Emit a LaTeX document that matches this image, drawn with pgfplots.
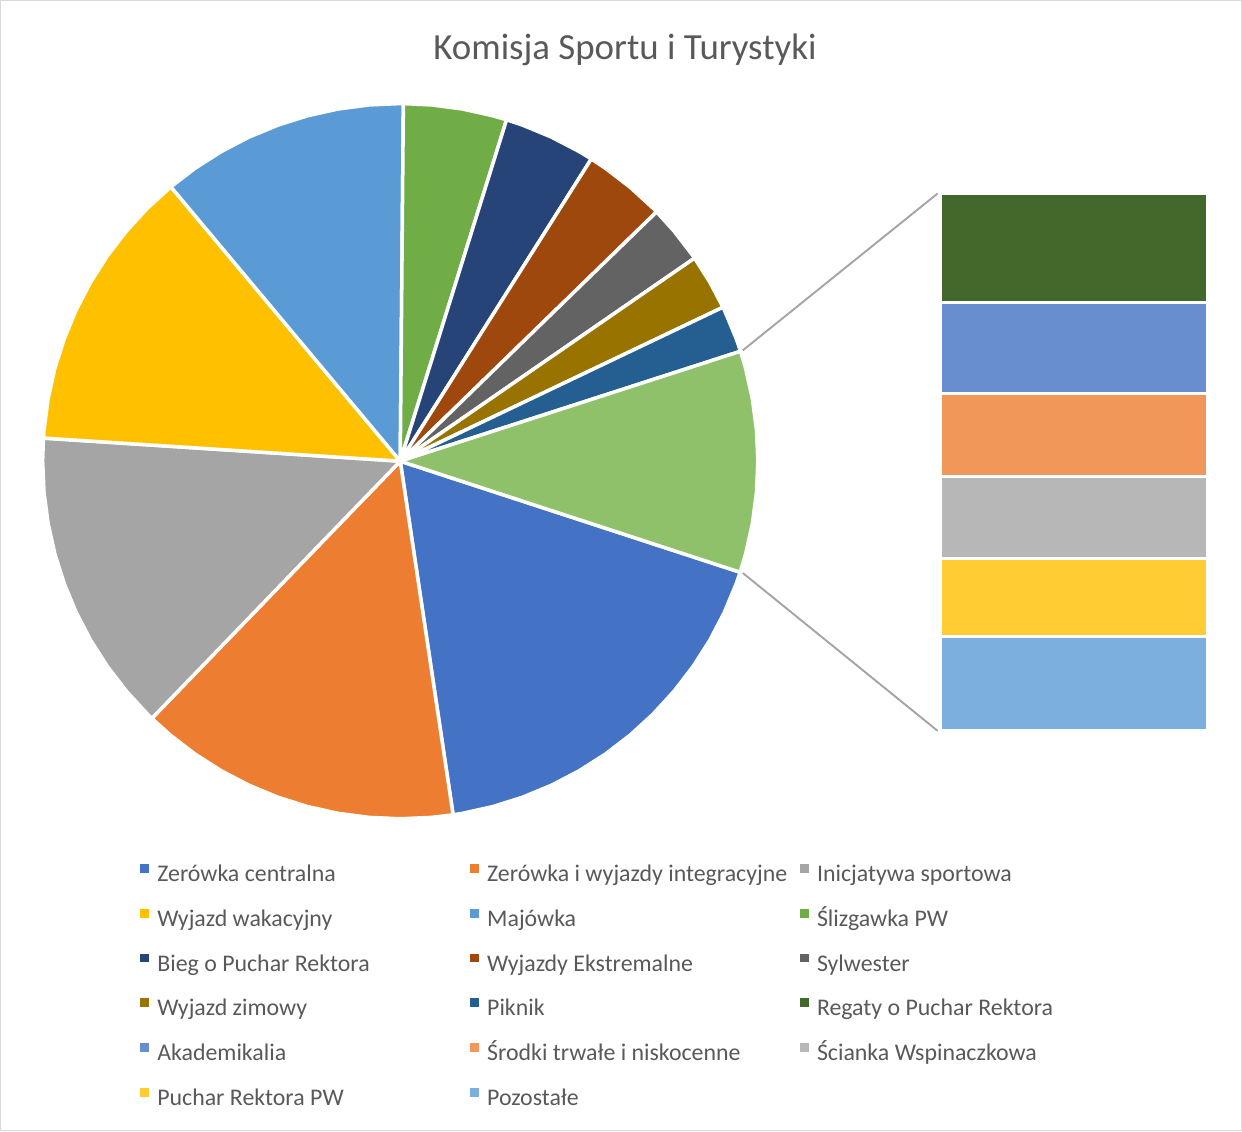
\documentclass[border=0pt]{standalone}
\usepackage{fontspec}
\setmainfont{Carlito}
\usepackage{pgfplots}
\pgfplotsset{compat=1.18}

\definecolor{txt}{HTML}{595959}
\definecolor{frame}{HTML}{D9D9D9}
\definecolor{conn}{HTML}{A5A5A5}
\definecolor{c01}{HTML}{4472C4}
\definecolor{c02}{HTML}{ED7D31}
\definecolor{c03}{HTML}{A5A5A5}
\definecolor{c04}{HTML}{FFC000}
\definecolor{c05}{HTML}{5B9BD5}
\definecolor{c06}{HTML}{70AD47}
\definecolor{c07}{HTML}{264478}
\definecolor{c08}{HTML}{9E480E}
\definecolor{c09}{HTML}{636363}
\definecolor{c10}{HTML}{997300}
\definecolor{c11}{HTML}{255E91}
\definecolor{c12}{HTML}{43682B}
\definecolor{c13}{HTML}{698ED0}
\definecolor{c14}{HTML}{F1975A}
\definecolor{c15}{HTML}{B7B7B7}
\definecolor{c16}{HTML}{FFCD33}
\definecolor{c17}{HTML}{7CAFDD}
\definecolor{cother}{HTML}{8FC16B}

\newcommand{\lentry}[1]{\addlegendentry{\makebox[89.1pt][l]{#1}}}

\pgfplotsset{
  slice/.style={fill=#1, draw=white, line width=1pt, line join=round, data cs=polar},
  seg/.style={fill=#1, draw=white, line width=0.9pt},
}

\begin{document}
\begin{tikzpicture}
\begin{axis}[
  width=12.42cm, height=11.31cm, scale only axis,
  xmin=-400, xmax=842, ymin=-670, ymax=461,
  axis lines=box, ticks=none,
  axis line style={draw=frame, line width=0.4pt},
  clip=false,
  legend columns=3,
  legend cell align=left,
  legend image code/.code={\fill[#1, draw=none] (0pt,0.5pt) rectangle (2.5pt,3.0pt);},
  legend style={at={(axis cs:-261,-399)}, anchor=north west,
    draw=none, fill=none, inner sep=0pt, text=txt,
    font=\fontsize{6.8}{8}\selectfont, row sep=4.77pt,
    nodes={inner sep=0pt, text height=6pt, text depth=2pt},
    /tikz/every odd column/.append style={column sep=2.36pt},
    /tikz/every even column/.append style={column sep=0pt}},
]
% pie: (angle in degrees, radius), slices clockwise from Zerowka centralna
\addplot[slice=c01] coordinates {(0,0) (-18.1,358) (-20,358) (-25,358) (-30,358) (-35,358) (-40,358) (-45,358) (-50,358) (-55,358) (-60,358) (-65,358) (-70,358) (-75,358) (-80,358) (-81.5,358)} -- cycle;
\lentry{Zerówka centralna}
\addplot[slice=c02] coordinates {(0,0) (-81.5,358) (-85,358) (-90,358) (-95,358) (-100,358) (-105,358) (-110,358) (-115,358) (-120,358) (-125,358) (-130,358) (-134,358)} -- cycle;
\lentry{Zerówka i wyjazdy integracyjne}
\addplot[slice=c03] coordinates {(0,0) (-134,358) (-135,358) (-140,358) (-145,358) (-150,358) (-155,358) (-160,358) (-165,358) (-170,358) (-175,358) (-180,358) (-183.7,358)} -- cycle;
\lentry{Inicjatywa sportowa}
\addplot[slice=c04] coordinates {(0,0) (176.3,358) (175,358) (170,358) (165,358) (160,358) (155,358) (150,358) (145,358) (140,358) (135,358) (129.9,358)} -- cycle;
\lentry{Wyjazd wakacyjny}
\addplot[slice=c05] coordinates {(0,0) (129.9,358) (125,358) (120,358) (115,358) (110,358) (105,358) (100,358) (95,358) (90,358) (89.5,358)} -- cycle;
\lentry{Majówka}
\addplot[slice=c06] coordinates {(0,0) (89.5,358) (85,358) (80,358) (75,358) (72.7,358)} -- cycle;
\lentry{Ślizgawka PW}
\addplot[slice=c07] coordinates {(0,0) (72.7,358) (70,358) (65,358) (60,358) (57.7,358)} -- cycle;
\lentry{Bieg o Puchar Rektora}
\addplot[slice=c08] coordinates {(0,0) (57.7,358) (55,358) (50,358) (45,358) (44.2,358)} -- cycle;
\lentry{Wyjazdy Ekstremalne}
\addplot[slice=c09] coordinates {(0,0) (44.2,358) (40,358) (35,358) (34.6,358)} -- cycle;
\lentry{Sylwester}
\addplot[slice=c10] coordinates {(0,0) (34.6,358) (30,358) (25.5,358)} -- cycle;
\lentry{Wyjazd zimowy}
\addplot[slice=c11] coordinates {(0,0) (25.5,358) (25,358) (20,358) (17.9,358)} -- cycle;
\lentry{Piknik}
% combined "other" slice
\addplot[slice=cother, forget plot] coordinates {(0,0) (17.9,358) (15,358) (10,358) (5,358) (0,358) (-5,358) (-10,358) (-15,358) (-18.1,358)} -- cycle;

% stacked bar for the other slice
\addplot[seg=c12] coordinates {(541,268) (808,268) (808,158.5) (541,158.5)} -- cycle;
\lentry{Regaty o Puchar Rektora}
\addplot[seg=c13] coordinates {(541,158.5) (808,158.5) (808,67.5) (541,67.5)} -- cycle;
\lentry{Akademikalia}
\addplot[seg=c14] coordinates {(541,67.5) (808,67.5) (808,-15.5) (541,-15.5)} -- cycle;
\lentry{Środki trwałe i niskocenne}
\addplot[seg=c15] coordinates {(541,-15.5) (808,-15.5) (808,-97.5) (541,-97.5)} -- cycle;
\lentry{Ścianka Wspinaczkowa}
\addplot[seg=c16] coordinates {(541,-97.5) (808,-97.5) (808,-175.5) (541,-175.5)} -- cycle;
\lentry{Puchar Rektora PW}
\addplot[seg=c17] coordinates {(541,-175.5) (808,-175.5) (808,-270) (541,-270)} -- cycle;
\lentry{Pozostałe}

% connector lines
\addplot[conn, line width=0.55pt, forget plot] coordinates {(343,111) (538,268)};
\addplot[conn, line width=0.55pt, forget plot] coordinates {(343,-112) (538,-270)};

\node[anchor=base, text=txt, font=\fontsize{10.5}{12}\selectfont] at (axis cs:225,402) {Komisja Sportu i Turystyki};
\end{axis}
\end{tikzpicture}
\end{document}
